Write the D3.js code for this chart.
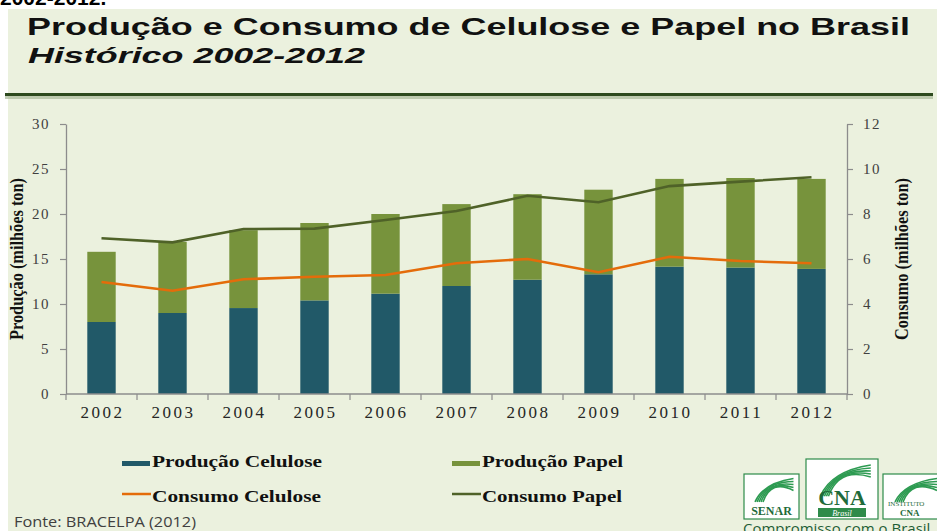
<!DOCTYPE html>
<html><head><meta charset="utf-8">
<script src="https://cdn.jsdelivr.net/npm/d3@7"></script>
<style>
html,body{margin:0;padding:0;background:#fff;overflow:hidden;}
svg{display:block;}
</style></head>
<body>
<svg id="c" width="937" height="531"></svg>
<script>
const years = ["2002","2003","2004","2005","2006","2007","2008","2009","2010","2011","2012"];
const producaoCelulose = [8.0, 9.0, 9.55, 10.4, 11.15, 12.0, 12.7, 13.3, 14.15, 14.05, 13.9];
const producaoPapel    = [7.8, 7.9, 8.65, 8.6, 8.85, 9.1, 9.5, 9.4, 9.75, 9.95, 10.0];
const consumoCelulose  = [4.98, 4.59, 5.1, 5.21, 5.29, 5.81, 6.0, 5.41, 6.1, 5.91, 5.81];
const consumoPapel     = [6.92, 6.74, 7.33, 7.35, 7.73, 8.13, 8.81, 8.52, 9.24, 9.44, 9.63];
const leftTicks  = [0,5,10,15,20,25,30];
const rightTicks = [0,2,4,6,8,10,12];

const svg = d3.select("#c");
// background panel
svg.append("rect").attr("x",8).attr("y",9).attr("width",929).attr("height",522).attr("fill","#ebf1de");
// cut-off text at top
svg.append("text").attr("x",0).attr("y",5).attr("font-family","Liberation Sans, Arial").attr("font-weight","bold")
  .attr("font-size",21).attr("fill","#000").text("2002-2012.");

// Title
svg.append("text").attr("x",27).attr("y",35).attr("font-family","Liberation Sans, Arial").attr("font-weight","bold")
  .attr("font-size",24).attr("fill","#111").attr("textLength",883).attr("lengthAdjust","spacingAndGlyphs")
  .text("Produção e Consumo de Celulose e Papel no Brasil");
svg.append("text").attr("x",28).attr("y",63).attr("font-family","Liberation Sans, Arial").attr("font-weight","bold")
  .attr("font-style","italic").attr("font-size",22).attr("fill","#111").attr("textLength",337).attr("lengthAdjust","spacingAndGlyphs")
  .text("Histórico 2002-2012");
// rule
svg.append("rect").attr("x",5).attr("y",96).attr("width",928).attr("height",3).attr("fill","#a9b99a").attr("opacity",0.7);
svg.append("rect").attr("x",5).attr("y",93).attr("width",928).attr("height",3).attr("fill","#2d4a1e");

// scales
const x = d3.scaleBand().domain(years).range([66,847]).paddingInner(0.6).paddingOuter(0.3);
const yL = d3.scaleLinear().domain([0,30]).range([394,124]);
const yR = d3.scaleLinear().domain([0,12]).range([394,124]);

const axisColor = "#8c8c8c";
const tickFont = "Liberation Serif, Times New Roman, serif";

// left axis
const gL = svg.append("g").attr("transform","translate(66,0)")
  .call(d3.axisLeft(yL).tickValues(leftTicks).tickSize(6).tickPadding(10).tickSizeOuter(0));
// right axis
const gR = svg.append("g").attr("transform","translate(847,0)")
  .call(d3.axisRight(yR).tickValues(rightTicks).tickSize(6).tickPadding(10).tickSizeOuter(0));
[gL,gR].forEach(g=>{
  g.select(".domain").attr("stroke",axisColor).attr("stroke-width",1.3);
  g.selectAll(".tick line").attr("stroke",axisColor).attr("stroke-width",1.2);
  g.selectAll(".tick text").attr("font-family",tickFont).attr("font-size",15).attr("fill","#404040")
    .attr("letter-spacing","1.5px");
});

// bars
const data = years.map((y,i)=>({year:y, cel:producaoCelulose[i], pap:producaoPapel[i]}));
svg.append("g").selectAll("rect").data(data).join("rect")
  .attr("x",d=>x(d.year)).attr("width",x.bandwidth())
  .attr("y",d=>yL(d.cel)).attr("height",d=>yL(0)-yL(d.cel)).attr("fill","#215968");
svg.append("g").selectAll("rect").data(data).join("rect")
  .attr("x",d=>x(d.year)).attr("width",x.bandwidth())
  .attr("y",d=>yL(d.cel+d.pap)).attr("height",d=>yL(d.cel)-yL(d.cel+d.pap)).attr("fill","#77933c");

// x axis
const step = x.step();
const off = (step - x.bandwidth())/2;
const bounds = years.map(y=>x(y)-off).concat([x(years[years.length-1])+x.bandwidth()+off]);
const gX = svg.append("g");
gX.append("line").attr("x1",66).attr("x2",847).attr("y1",394).attr("y2",394).attr("stroke",axisColor).attr("stroke-width",1.3);
gX.selectAll("line.t").data(bounds).join("line").attr("class","t")
  .attr("x1",d=>d).attr("x2",d=>d).attr("y1",394).attr("y2",400).attr("stroke",axisColor).attr("stroke-width",1.2);
gX.selectAll("text").data(years).join("text")
  .attr("x",d=>x(d)+x.bandwidth()/2+1).attr("y",418).attr("text-anchor","middle")
  .attr("font-family",tickFont).attr("font-size",17).attr("fill","#262626").attr("letter-spacing","2.5px")
  .text(d=>d);

// lines
const line = d3.line().x(d=>x(d.year)+x.bandwidth()/2).y(d=>yR(d.v));
svg.append("path").datum(years.map((y,i)=>({year:y,v:consumoPapel[i]})))
  .attr("d",line).attr("fill","none").attr("stroke","#4f6228").attr("stroke-width",2.6);
svg.append("path").datum(years.map((y,i)=>({year:y,v:consumoCelulose[i]})))
  .attr("d",line).attr("fill","none").attr("stroke","#e46c0a").attr("stroke-width",2.6);

// axis titles
svg.append("text").attr("transform","translate(23,259) rotate(-90)").attr("text-anchor","middle")
  .attr("font-family",tickFont).attr("font-weight","bold").attr("font-size",19).attr("fill","#111")
  .attr("textLength",162).attr("lengthAdjust","spacingAndGlyphs").text("Produção (milhões ton)");
svg.append("text").attr("transform","translate(908,259) rotate(-90)").attr("text-anchor","middle")
  .attr("font-family",tickFont).attr("font-weight","bold").attr("font-size",19).attr("fill","#111")
  .attr("textLength",162).attr("lengthAdjust","spacingAndGlyphs").text("Consumo (milhões ton)");

// legend
const legend = [
  {label:"Produção Celulose", color:"#215968", type:"rect", x:122, y:467, w:170},
  {label:"Produção Papel", color:"#77933c", type:"rect", x:452, y:467, w:141},
  {label:"Consumo Celulose", color:"#e46c0a", type:"line", x:122, y:502, w:169},
  {label:"Consumo Papel", color:"#4f6228", type:"line", x:452, y:502, w:140}
];
const lg = svg.append("g");
legend.forEach(l=>{
  if(l.type==="rect") lg.append("rect").attr("x",l.x).attr("y",l.y-6).attr("width",28).attr("height",5).attr("fill",l.color);
  else lg.append("line").attr("x1",l.x).attr("x2",l.x+29).attr("y1",l.y-8).attr("y2",l.y-8).attr("stroke",l.color).attr("stroke-width",2.5);
  lg.append("text").attr("x",l.x+30).attr("y",l.y).attr("font-family",tickFont).attr("font-weight","bold")
    .attr("font-size",16).attr("fill","#111").attr("textLength",l.w).attr("lengthAdjust","spacingAndGlyphs").text(l.label);
});

// source
svg.append("text").attr("x",14).attr("y",527).attr("font-family","Open Sans, sans-serif").attr("font-size",14)
  .attr("fill","#404040").attr("textLength",182).attr("lengthAdjust","spacingAndGlyphs").text("Fonte: BRACELPA (2012)");

// logos (simplified)
const logo = svg.append("g");
function box(x0,y0,w,h){
  logo.append("rect").attr("x",x0).attr("y",y0).attr("width",w).attr("height",h).attr("fill","#fff").attr("stroke","#2e8b4a").attr("stroke-width",1.2);
  for(let k=0;k<5;k++){
    logo.append("path").attr("d",`M${x0+w*0.2+k*2},${y0+h*0.62} Q${x0+w*0.35+k*2},${y0+h*0.2-k} ${x0+w*0.9},${y0+h*0.1+k*3}`)
      .attr("fill","none").attr("stroke","#2e9b52").attr("stroke-width",1.6);
  }
}
box(744,474,55,45);
box(806,459,72,60);
box(883,474,60,45);
logo.append("text").attr("x",771.5).attr("y",515).attr("text-anchor","middle").attr("font-family",tickFont).attr("font-weight","bold").attr("font-size",12).attr("fill","#1f6b3a").text("SENAR");
logo.append("text").attr("x",842).attr("y",505).attr("text-anchor","middle").attr("font-family",tickFont).attr("font-weight","bold").attr("font-size",22).attr("fill","#1f6b3a").text("CNA");
logo.append("rect").attr("x",818).attr("y",508).attr("width",48).attr("height",9).attr("fill","#2e8b4a");
logo.append("text").attr("x",842).attr("y",516).attr("text-anchor","middle").attr("font-family",tickFont).attr("font-style","italic").attr("font-size",8).attr("fill","#fff").text("Brasil");
logo.append("text").attr("x",888).attr("y",506).attr("font-family",tickFont).attr("font-size",7).attr("fill","#1f6b3a").text("INSTITUTO");
logo.append("text").attr("x",900).attr("y",516).attr("font-family",tickFont).attr("font-weight","bold").attr("font-size",9).attr("fill","#1f6b3a").text("CNA");
logo.append("text").attr("x",743).attr("y",534).attr("font-family","Open Sans, sans-serif").attr("font-size",15).attr("fill","#1f5e36").text("Compromisso com o Brasil");
</script>
</body></html>
